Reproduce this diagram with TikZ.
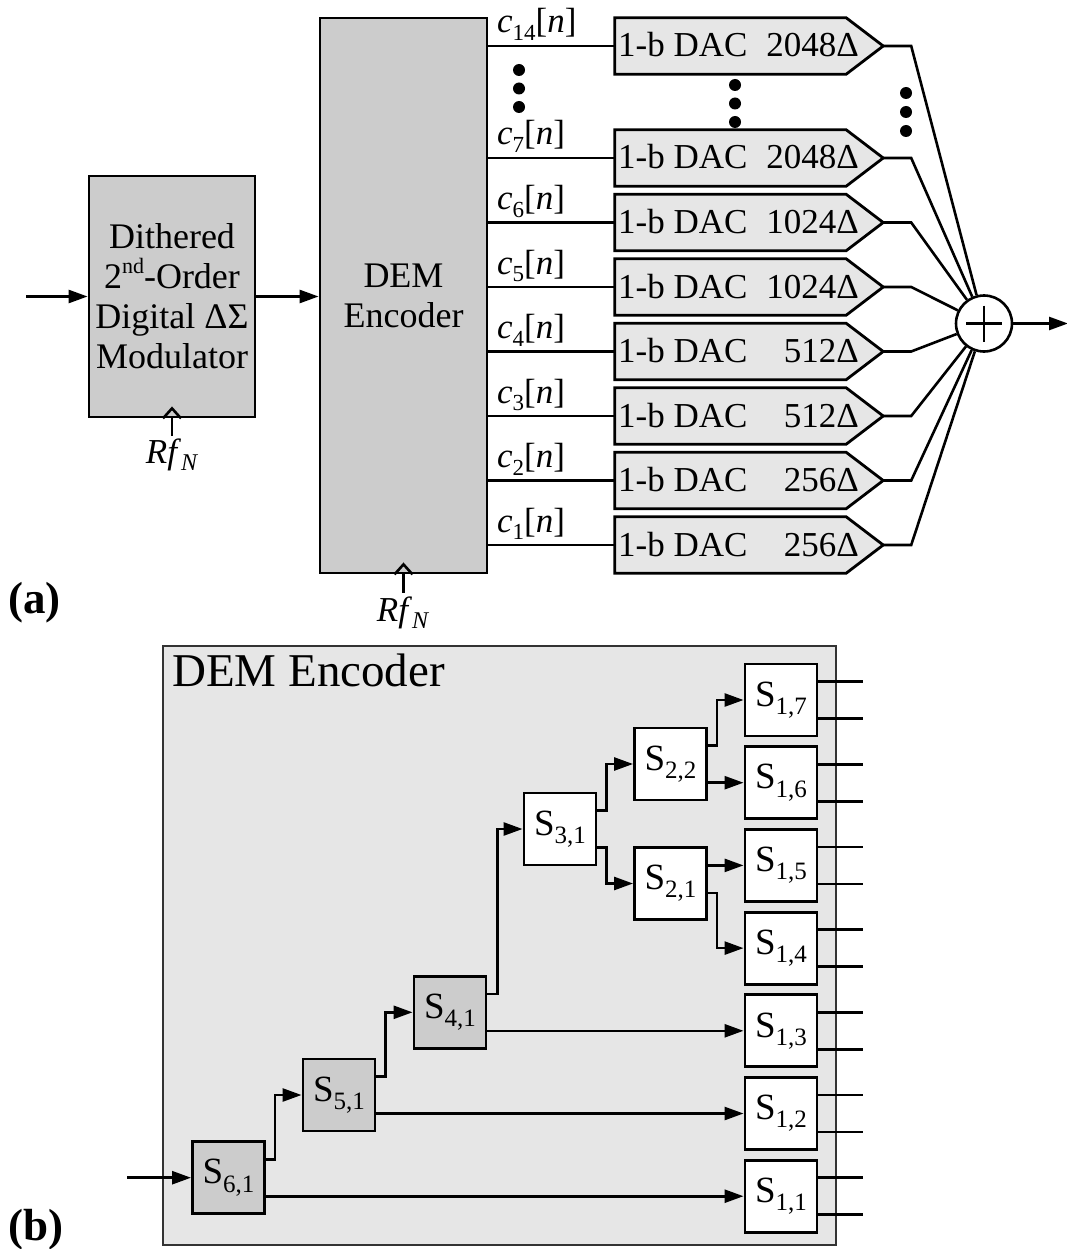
\documentclass[tikz,border=0pt]{standalone}
\usepackage{fontspec}
\setmainfont{Liberation Serif}
\usetikzlibrary{arrows.meta,calc}
\newcommand{\mysub}[2][23]{\raisebox{-0.22em}{\fontsize{#1}{#1}\selectfont #2}}
\newcommand{\mysup}[2][22]{\raisebox{0.42em}{\fontsize{#1}{#1}\selectfont #2}}
\definecolor{graydark}{HTML}{CCCCCC}
\definecolor{graylight}{HTML}{E6E6E6}
\begin{document}
\begin{tikzpicture}[x=1pt,y=-1pt,
  blk/.style={draw, line width=2.8pt, fill=graydark, inner sep=0pt, align=center,
              font=\fontsize{36}{40}\selectfont},
  wire/.style={line width=2.6pt},
  arr/.style={wire, -{Triangle[length=19pt,width=13pt]}},
  dacbody/.style={inner sep=0pt, minimum width=231pt, minimum height=56pt},
  dacshape/.style={draw, line width=2.8pt, fill=graylight, line join=miter},
  txt/.style={inner sep=0pt, font=\fontsize{35}{40}\selectfont},
  sbox/.style={draw, line width=2.9pt, fill=white, minimum size=72pt, inner sep=0pt,
               font=\fontsize{37}{40}\selectfont},
  sboxg/.style={sbox, fill=graydark},
  lbl/.style={inner sep=0pt, font=\bfseries\fontsize{45}{45}\selectfont}
]
\useasboundingbox (0,0) rectangle (1067,1249);

% ---------------- (a) ----------------
\node[blk, minimum width=166pt, minimum height=241pt] (mod) at (172,296.5)
  {Dithered\\2\mysup{nd}-Order\\Digital ΔΣ\\Modulator};
\node[blk, minimum width=167pt, minimum height=555pt] (dem) at (403.5,295.5)
  {DEM\\Encoder};

\coordinate (ain) at (26,296.5);
\draw[arr] (ain) -- (mod.west);
\draw[arr] (mod.east) -- (dem.west |- mod.east);

% clock inputs
\draw[wire, line join=miter] ($(mod.south)+(-9,0)$) -- ($(mod.south)+(0,-10)$) -- ($(mod.south)+(9,0)$);
\draw[wire] (mod.south) -- ++(0,18) coordinate (clk1);
\node[txt, anchor=base] (rf1) at (172,463) {\textit{Rf}\mysub[24]{\textit{N}}};
\draw[wire, line join=miter] ($(dem.south)+(-9,0)$) -- ($(dem.south)+(0,-10)$) -- ($(dem.south)+(9,0)$);
\draw[wire] (dem.south) -- ++(0,19) coordinate (clk2);
\node[txt, anchor=base] (rf2) at (403,621) {\textit{Rf}\mysub[24]{\textit{N}}};

% summer
\node[circle, draw, line width=2.6pt, minimum size=56pt, inner sep=0pt, fill=white] (sum) at (984,323.5) {};
\draw[line width=2.2pt] ($(sum)+(-18,0)$) -- ($(sum)+(18,0)$);
\draw[line width=2.2pt] ($(sum)+(0,-18)$) -- ($(sum)+(0,18)$);
\coordinate (aout) at (1068,323.5);
\draw[arr] (sum) -- (aout);

% DACs
\foreach \n/\yy/\v in {14/46/2048, 7/158/2048, 6/222.5/1024, 5/287/1024,
                       4/351.5/512, 3/416/512, 2/480.5/256, 1/545/256}{
  \node[dacbody] (dac\n) at (730.5,\yy) {};
  \draw[dacshape] (dac\n.north west) -- (dac\n.north east)
     -- ($(dac\n.east)+(37,0)$) coordinate (tip\n)
     -- (dac\n.south east) -- (dac\n.south west) -- cycle;
  \node[txt, anchor=base west] (dl\n) at (618,\yy+11) {1-b DAC};
  \node[txt, anchor=base east] (dv\n) at (859,\yy+11) {\v Δ};
  \draw[wire] (dem.east |- dac\n.west) -- (dac\n.west);
  \draw[wire] (tip\n) -- ++(28,0) -- (sum);
  \node[txt, anchor=base west] (cl\n) at (497,\yy-13) {\textit{c}\mysub{\n}[\textit{n}]};
}

% ellipsis dots
\foreach \dy in {70,88.5,107}{ \fill (519,\dy) circle (6); }
\foreach \dy in {85,103.5,122}{ \fill (735,\dy) circle (6); }
\foreach \dy in {93,112,131}{ \fill (906,\dy) circle (6); }

\node[lbl, anchor=base west] (la) at (8,613) {(a)};

% ---------------- (b) ----------------
\node[draw=black!80, line width=2pt, fill=graylight, minimum width=673pt, minimum height=599pt, inner sep=0pt]
  (enc) at (499.5,945.5) {};
\node[inner sep=0pt, anchor=base west, font=\fontsize{47}{47}\selectfont] (enct) at (172,686) {DEM Encoder};

\node[sboxg] (s61) at (228.5,1177.7) {S\mysub[25]{6,1}};
\node[sboxg] (s51) at (339,1095) {S\mysub[25]{5,1}};
\node[sboxg] (s41) at (450,1012.3) {S\mysub[25]{4,1}};
\node[sbox] (s31) at (560,829) {S\mysub[25]{3,1}};
\node[sbox] (s22) at (670.5,764) {S\mysub[25]{2,2}};
\node[sbox] (s21) at (670.5,883.5) {S\mysub[25]{2,1}};
\foreach \k/\yy in {7/700, 6/782.7, 5/865.4, 4/948.1, 3/1030.8, 2/1113.5, 1/1196.2}{
  \node[sbox] (s1\k) at (781,\yy) {S\mysub[25]{1,\k}};
  \draw[wire] ($(s1\k.east)+(0,-18.5)$) -- ++(45,0);
  \draw[wire] ($(s1\k.east)+(0,18.5)$) -- ++(45,0);
}

\coordinate (bin) at (127,1177.7);
\draw[arr] (bin) -- (s61.west);
\draw[arr] ($(s61.east)+(0,-18.5)$) -- ++(9,0) |- (s51.west);
\draw[arr] ($(s51.east)+(0,-18.5)$) -- ++(9,0) |- (s41.west);
\draw[arr] ($(s41.east)+(0,-18.5)$) -- ++(10,0) |- (s31.west);
\draw[arr] ($(s31.east)+(0,-18.5)$) -- ++(9,0) |- (s22.west);
\draw[arr] ($(s31.east)+(0,18.5)$) -- ++(9,0) |- (s21.west);
\draw[arr] ($(s22.east)+(0,-18.5)$) -- ++(9,0) |- (s17.west);
\draw[arr] ($(s21.east)+(0,9.5)$) -- ++(9,0) |- (s14.west);
\draw[arr] (s22.east |- s16.west) -- (s16.west);
\draw[arr] (s21.east |- s15.west) -- (s15.west);
\draw[arr] (s41.east |- s13.west) -- (s13.west);
\draw[arr] (s51.east |- s12.west) -- (s12.west);
\draw[arr] (s61.east |- s11.west) -- (s11.west);

\node[lbl, anchor=base west] (lb) at (8,1240) {(b)};
\end{tikzpicture}
\end{document}
